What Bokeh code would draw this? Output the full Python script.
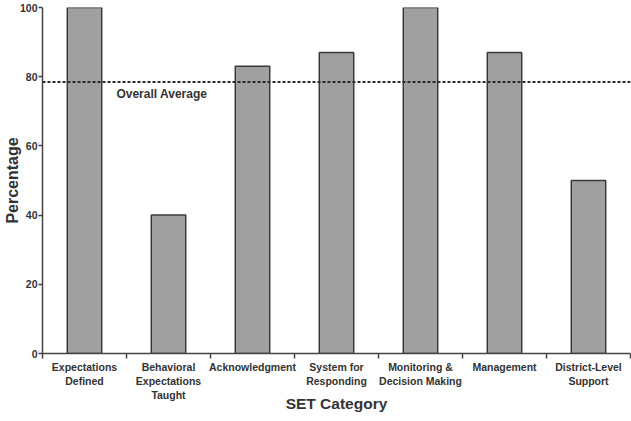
from bokeh.plotting import figure
from bokeh.models import FixedTicker, Span, Label, ColumnDataSource, Range1d
from bokeh.embed import file_html
from bokeh.resources import INLINE

categories = ["Expectations\nDefined", "Behavioral\nExpectations\nTaught", "Acknowledgment",
              "System for\nResponding", "Monitoring &\nDecision Making", "Management",
              "District-Level\nSupport"]
values = [100, 40, 83, 87, 100, 87, 50]
overall_average = 78.5
y_ticks = [0, 20, 40, 60, 80, 100]

n = len(categories)
centers = [i + 0.5 for i in range(n)]
src = ColumnDataSource(dict(x=centers, top=values))

p = figure(width=631, height=421, output_backend="svg", toolbar_location=None,
           x_range=Range1d(0, n), y_range=Range1d(0, 100),
           min_border_left=42, min_border_right=1, min_border_top=7, min_border_bottom=68)
p.outline_line_color = None
p.xgrid.visible = False
p.ygrid.visible = False
p.background_fill_color = "white"
p.border_fill_color = "white"

p.vbar(x="x", top="top", width=0.41, bottom=0, source=src,
       fill_color="#a0a0a0", line_color="#3a3a3a", line_width=1.5)

p.add_layout(Span(location=overall_average, dimension="width", line_color="#2a2a2a",
                  line_dash="3 2", line_width=2))
p.add_layout(Label(x=0.88, y=overall_average, text="Overall Average", text_baseline="top",
                   y_offset=-5, text_font="Liberation Sans", text_font_style="bold",
                   text_font_size="12px", text_color="#333333"))

font = "Liberation Sans"
xa = p.xaxis[0]
xa.ticker = FixedTicker(ticks=centers, minor_ticks=list(range(n + 1)))
xa.major_label_overrides = {c: lab for c, lab in zip(centers, categories)}
xa.major_tick_line_color = None
xa.major_tick_out = 0
xa.major_tick_in = 0
xa.minor_tick_out = 5
xa.minor_tick_in = 0
xa.minor_tick_line_color = "#444444"
xa.minor_tick_line_width = 1.5
xa.axis_line_color = "#444444"
xa.axis_line_width = 1.5
xa.major_label_text_font = font
xa.major_label_text_font_style = "bold"
xa.major_label_text_font_size = "10.5px"
xa.major_label_text_color = "#333333"
xa.major_label_standoff = 2
xa.axis_label = "SET Category"
xa.axis_label_text_font = font
xa.axis_label_text_font_style = "bold"
xa.axis_label_text_font_size = "15.5px"
xa.axis_label_text_color = "#333333"
xa.axis_label_standoff = -9

ya = p.yaxis[0]
ya.ticker = FixedTicker(ticks=y_ticks, minor_ticks=[])
ya.major_tick_out = 4
ya.major_tick_in = 0
ya.major_tick_line_color = "#444444"
ya.major_tick_line_width = 1.5
ya.axis_line_color = "#444444"
ya.axis_line_width = 1.5
ya.major_label_text_font = font
ya.major_label_text_font_style = "bold"
ya.major_label_text_font_size = "10.5px"
ya.major_label_text_color = "#333333"
ya.major_label_standoff = 1
ya.axis_label = "Percentage"
ya.axis_label_text_font = font
ya.axis_label_text_font_style = "bold"
ya.axis_label_text_font_size = "16px"
ya.axis_label_text_color = "#333333"
ya.axis_label_standoff = -4

open("out.html", "w").write(file_html(p, INLINE))
